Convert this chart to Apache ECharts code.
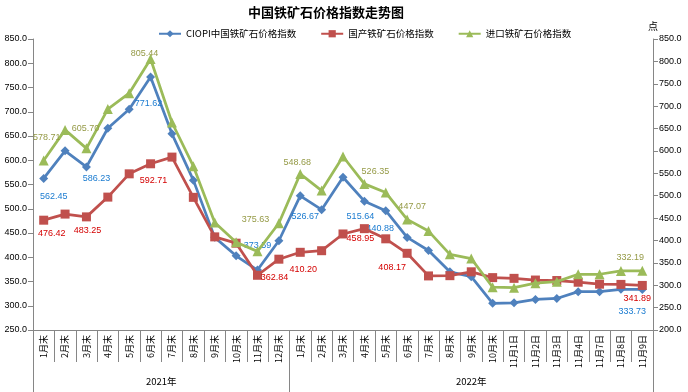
<!DOCTYPE html>
<html>
<head>
<meta charset="utf-8">
<script src="https://cdn.jsdelivr.net/npm/echarts@6/dist/echarts.min.js"></script>
<style>
html,body{margin:0;padding:0;background:#fff;}
#chart{width:688px;height:392px;}
</style>
</head>
<body>
<div id="chart"></div>
<script>
// ---- data ----
const months2021 = ['1月末','2月末','3月末','4月末','5月末','6月末','7月末','8月末','9月末','10月末','11月末','12月末'];
const months2022 = ['1月末','2月末','3月末','4月末','5月末','6月末','7月末','8月末','9月末','10月末'];
const novDays = ['11月1日','11月2日','11月3日','11月4日','11月7日','11月8日','11月9日'];
const years = ['2021年','2022年'];
const seriesNames = ['CIOPI中国铁矿石价格指数','国产铁矿石价格指数','进口铁矿石价格指数'];
const ciopi = [562.45,619.5,586.23,666,705,771.62,654.5,559,441,403,373.59,434,526.67,498,565,515.64,496,440.88,414,370,360,305,306,313,315,329,329,334,333.73];
const domestic = [476.42,489,483.25,524,572,592.71,606.5,523.5,442,429,362.84,396,410.20,413.5,448,458.95,438,408.17,361.5,362,370,358,356.5,353,352,348.5,344.5,344,341.89];
const imported = [578.71,647,605.70,693.5,729,805.44,663.5,566,440,396,375.63,438.5,548.68,511.5,587.5,526.35,507,447.07,421,369,359.5,295.5,294.5,304.5,308,324.5,324.5,332,332.19];
const leftTicks = {min:250, max:850, step:50};
const rightTicks = {min:200, max:850, step:50};

// ---- styling (label placement) ----
const labelOffsets = [
  {0:[10,18],2:[10,12],5:[-2,27],10:[0,-25],12:[5,21],15:[-4,15],17:[-27,-9],28:[-10,22]},
  {0:[8,13],2:[1,14],5:[3,17],10:[17,2],12:[3,17],15:[-4,10],17:[-15,14],28:[-5,13]},
  {0:[3,-23],2:[-1,-20],5:[-6,-5],10:[-2,-32],12:[-3,-11],15:[11,-12],17:[5,-13],28:[-12,-13]}
];
const lineColors = ['#4F81BD','#C0504D','#9BBB59'];
const labelColors = ['#1A7BD0','#D40000','#959A46'];
const symbols = ['diamond','rect','triangle'];
const symbolSizes = [9,9,10];

const categories = [...months2021, ...months2022, ...novDays];
const nFirstYear = months2021.length;
const nTotal = categories.length;

const FONT = "'Liberation Sans','Noto Sans CJK SC',sans-serif";
const CJK = "'Noto Sans CJK SC','Liberation Sans',sans-serif";

function buildData(values, k) {
  const off = labelOffsets[k];
  return values.map((v, i) => off[i] ? {
    value: v,
    label: {show: true, position: 'inside', align: 'center', verticalAlign: 'middle',
      offset: off[i], color: labelColors[k], fontSize: 9, fontFamily: FONT,
      formatter: p => Number(p.value).toFixed(2)}
  } : v);
}

const allSeries = [ciopi, domestic, imported].map((vals, k) => ({
  name: seriesNames[k],
  type: 'line',
  xAxisIndex: 0,
  yAxisIndex: k === 2 ? 1 : 0,
  data: buildData(vals, k),
  symbol: symbols[k],
  symbolSize: symbolSizes[k],
  lineStyle: {color: lineColors[k], width: 2.75},
  itemStyle: {color: lineColors[k]},
  label: {show: false},
  emphasis: {disabled: true},
  z: 2 + k
}));

const chart = echarts.init(document.getElementById('chart'), null, {renderer: 'canvas'});
chart.setOption({
  animation: false,
  backgroundColor: '#fff',
  title: {
    text: '中国铁矿石价格指数走势图',
    left: 243, top: 1,
    textStyle: {fontSize: 13, fontWeight: 'bold', color: '#000', fontFamily: CJK}
  },
  legend: {
    data: seriesNames,
    left: 153, top: 24,
    itemWidth: 22, itemHeight: 9, itemGap: 24,
    textStyle: {fontSize: 9.5, color: '#000', fontFamily: CJK}
  },
  grid: {left: 33, right: 35, top: 39, bottom: 62, containLabel: false},
  xAxis: [
    {
      type: 'category',
      data: categories,
      boundaryGap: true,
      position: 'bottom',
      axisLine: {lineStyle: {color: '#868686', width: 1}},
      axisTick: {show: true, length: 32, lineStyle: {color: '#868686'}},
      axisLabel: {rotate: 90, interval: 0, margin: 5, fontSize: 9, color: '#000', fontFamily: CJK},
      splitLine: {show: false}
    },
    {
      type: 'value',
      min: 0, max: nTotal,
      position: 'bottom',
      offset: 0,
      axisLine: {show: false},
      axisTick: {show: true, length: 62, customValues: [0, nFirstYear, nTotal], lineStyle: {color: '#868686'}},
      axisLabel: {
        customValues: [nFirstYear / 2, (nFirstYear + nTotal) / 2],
        margin: 47, fontSize: 9.5, color: '#000', fontFamily: CJK,
        formatter: v => v < nFirstYear ? years[0] : years[1]
      },
      splitLine: {show: false}
    }
  ],
  yAxis: [
    {
      type: 'value', position: 'left',
      min: leftTicks.min, max: leftTicks.max, interval: leftTicks.step,
      axisLine: {show: true, lineStyle: {color: '#868686'}},
      axisTick: {show: true, length: 5, lineStyle: {color: '#868686'}},
      axisLabel: {fontSize: 9, color: '#000', margin: 6, fontFamily: FONT, formatter: v => v.toFixed(1)},
      splitLine: {show: false}
    },
    {
      type: 'value', position: 'right',
      min: rightTicks.min, max: rightTicks.max, interval: rightTicks.step,
      name: '点', nameLocation: 'end', nameGap: 8,
      nameTextStyle: {fontSize: 10, color: '#000', fontFamily: CJK, align: 'center'},
      axisLine: {show: true, lineStyle: {color: '#868686'}},
      axisTick: {show: true, length: 5, lineStyle: {color: '#868686'}},
      axisLabel: {fontSize: 9, color: '#000', margin: 6, fontFamily: FONT, formatter: v => v.toFixed(1)},
      splitLine: {show: false}
    }
  ],
  series: allSeries
});
</script>
</body>
</html>
